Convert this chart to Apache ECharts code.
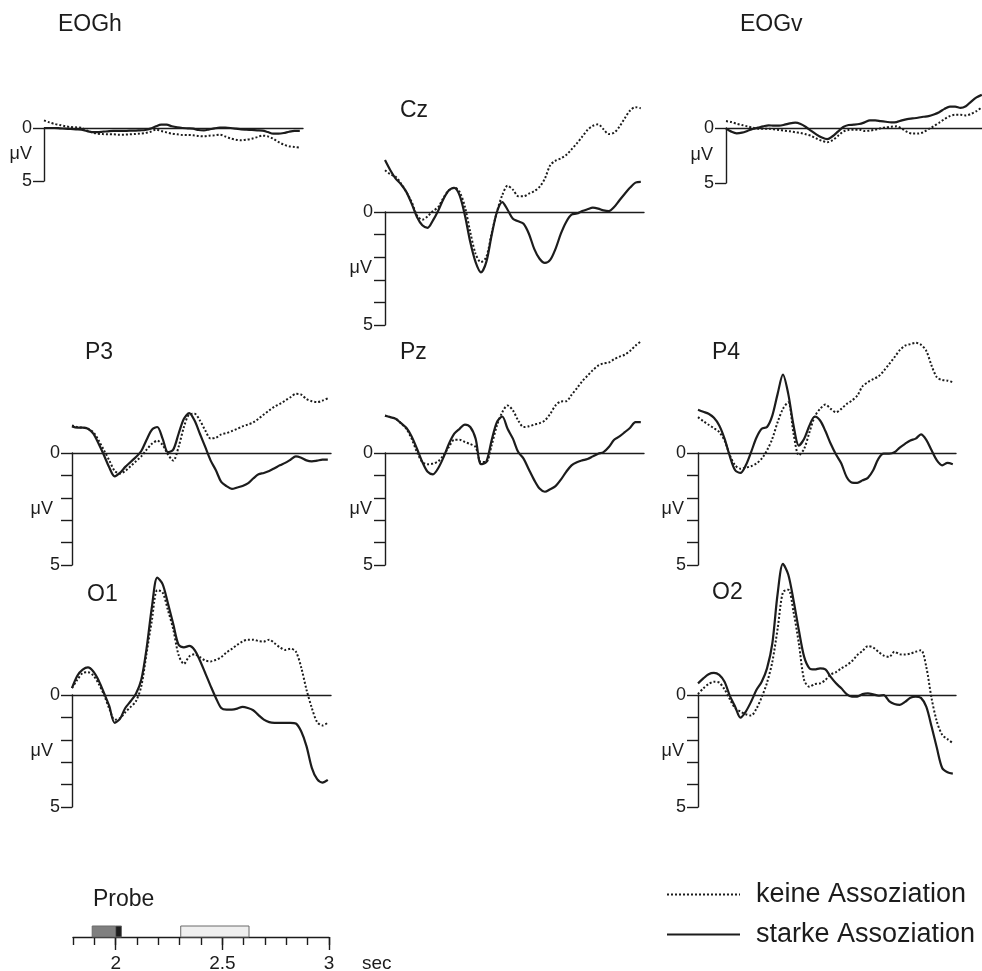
<!DOCTYPE html>
<html>
<head>
<meta charset="utf-8">
<script src="https://cdn.jsdelivr.net/npm/echarts@6/dist/echarts.min.js"></script>
<style>
  html, body { margin: 0; padding: 0; background: #fff; }
  #chart { width: 982px; height: 971px; }
</style>
</head>
<body>
<div id="chart"></div>
<script>
// Sample times (s) of the averaged ERP traces, 25 ms apart from 1.8 s to 3.0 s
const times = Array.from({ length: 49 }, (_, i) => +(1.8 + i * 0.025).toFixed(3));

const seriesNames = ['keine Assoziation', 'starke Assoziation'];

// Amplitudes in µV (negative plotted upward)
const eoghKeine = [-0.72,-0.53,-0.38,-0.28,-0.16,-0.09,-0.06,-0.03,0.22,0.41,
  0.53,0.57,0.60,0.60,0.63,0.63,0.60,0.57,0.53,0.47,
  0.35,0.16,0.28,0.41,0.53,0.60,0.66,0.66,0.69,0.75,
  0.79,0.72,0.69,0.63,0.79,0.98,1.10,1.16,1.10,1.01,
  0.86,0.72,0.79,1.01,1.32,1.57,1.73,1.79,1.86];
const eoghStarke = [0,0,0,0.03,0.06,0.09,0.13,0.16,0.28,0.38,
  0.38,0.35,0.31,0.28,0.28,0.28,0.25,0.25,0.22,0.19,
  0.06,-0.16,-0.31,-0.31,-0.16,-0.06,0,0.03,0.06,0.19,
  0.22,0.13,0.03,-0.03,-0.03,0,0.06,0.13,0.16,0.19,
  0.22,0.25,0.38,0.53,0.53,0.47,0.35,0.28,0.28];

const eogvKeine = [-0.63,-0.54,-0.39,-0.27,-0.15,-0.03,0.06,0.06,0.06,0.12,
  0.18,0.24,0.30,0.39,0.45,0.57,0.72,0.96,1.17,1.29,
  1.11,0.72,0.33,0.18,0.15,0.15,0.27,0.24,0.15,0.03,
  -0.06,-0.12,-0.15,0.06,0.36,0.51,0.51,0.39,0.09,-0.18,
  -0.48,-0.81,-1.08,-1.20,-1.20,-1.14,-1.29,-1.53,-1.89];
const eogvStarke = [0.06,0.33,0.48,0.42,0.27,0.09,-0.03,-0.15,-0.24,-0.21,
  -0.21,-0.30,-0.42,-0.48,-0.36,-0.09,0.27,0.60,0.87,1.02,
  0.75,0.33,-0.09,-0.27,-0.30,-0.36,-0.51,-0.69,-0.69,-0.63,
  -0.57,-0.51,-0.54,-0.69,-0.81,-0.87,-0.93,-1.02,-1.08,-1.23,
  -1.44,-1.74,-1.95,-1.95,-1.83,-1.98,-2.40,-2.78,-3.02];

const czKeine = [-1.85,-1.67,-1.56,-1.26,-0.89,-0.44,0.15,0.34,0.19,-0.04,
  -0.22,-0.64,-0.96,-1.08,-0.89,-0.22,0.89,1.85,2.22,2.00,
  0.96,0.00,-0.74,-1.16,-0.99,-0.70,-0.70,-0.81,-0.92,-1.11,
  -1.48,-2.07,-2.27,-2.37,-2.52,-2.77,-3.04,-3.33,-3.63,-3.81,
  -3.88,-3.66,-3.45,-3.51,-3.78,-4.15,-4.49,-4.64,-4.59];
const czStarke = [-2.30,-1.85,-1.48,-1.23,-0.89,-0.37,0.22,0.59,0.70,0.37,
  -0.07,-0.59,-0.96,-1.07,-0.74,0.15,1.33,2.22,2.67,2.22,
  1.04,0.00,-0.44,-0.10,0.30,0.41,0.52,0.96,1.63,2.07,
  2.25,2.12,1.63,0.96,0.44,0.12,0.07,-0.04,-0.12,-0.19,
  -0.15,-0.07,-0.04,-0.22,-0.52,-0.81,-1.08,-1.30,-1.33];

const p3Keine = [-1.23,-1.16,-1.13,-1.08,-0.93,-0.56,-0.12,0.33,0.80,0.92,
  0.80,0.59,0.37,0.15,-0.15,-0.41,-0.55,-0.36,0.06,0.34,
  -0.27,-1.16,-1.72,-1.75,-1.45,-1.01,-0.65,-0.68,-0.83,-0.89,
  -0.98,-1.08,-1.19,-1.27,-1.36,-1.53,-1.72,-1.90,-2.07,-2.19,
  -2.34,-2.49,-2.64,-2.61,-2.41,-2.31,-2.27,-2.34,-2.44];
const p3Starke = [-1.19,-1.13,-1.13,-1.08,-0.86,-0.41,0.10,0.65,1.04,0.89,
  0.62,0.40,0.18,-0.09,-0.59,-1.04,-1.16,-0.64,-0.04,-0.15,
  -0.86,-1.53,-1.78,-1.45,-0.86,-0.27,0.33,0.77,1.29,1.48,
  1.60,1.54,1.47,1.36,1.14,0.95,0.89,0.80,0.68,0.55,
  0.44,0.30,0.15,0.21,0.33,0.37,0.34,0.30,0.30];

const pzKeine = [-1.67,-1.60,-1.53,-1.33,-1.08,-0.64,-0.04,0.40,0.50,0.47,
  0.37,0.10,-0.27,-0.59,-0.59,-0.49,-0.40,-0.27,0.40,0.40,
  -0.34,-1.23,-1.82,-2.12,-1.90,-1.45,-1.16,-1.19,-1.27,-1.33,
  -1.45,-1.75,-2.12,-2.30,-2.31,-2.59,-2.89,-3.20,-3.45,-3.70,
  -3.90,-4.00,-4.04,-4.19,-4.30,-4.39,-4.56,-4.79,-4.98];
const pzStarke = [-1.67,-1.60,-1.53,-1.33,-1.13,-0.74,-0.19,0.40,0.84,0.95,
  0.67,0.18,-0.41,-0.86,-1.08,-1.27,-1.16,-0.64,0.50,0.40,
  -0.56,-1.38,-1.63,-1.08,-0.64,-0.04,0.25,0.74,1.21,1.59,
  1.73,1.62,1.48,1.19,0.84,0.55,0.41,0.33,0.27,0.15,
  0.03,-0.04,-0.27,-0.59,-0.74,-0.93,-1.13,-1.38,-1.38];

const p4Keine = [-1.60,-1.42,-1.26,-1.11,-0.93,-0.56,0.10,0.55,0.70,0.65,
  0.59,0.47,0.25,-0.12,-0.64,-1.38,-1.97,-2.27,-0.86,0.10,
  -0.19,-0.93,-1.63,-1.97,-2.16,-1.97,-1.82,-1.97,-2.19,-2.34,
  -2.56,-2.98,-3.16,-3.30,-3.42,-3.67,-3.97,-4.27,-4.59,-4.79,
  -4.86,-4.92,-4.83,-4.56,-3.90,-3.38,-3.26,-3.23,-3.16];
const p4Starke = [-1.93,-1.84,-1.75,-1.57,-1.23,-0.64,0.15,0.77,0.89,0.55,
  -0.04,-0.68,-1.08,-1.16,-1.67,-2.64,-3.50,-2.64,-1.23,-0.33,
  -0.64,-1.23,-1.63,-1.45,-0.98,-0.41,0.07,0.47,1.07,1.32,
  1.33,1.22,1.11,0.77,0.25,0.03,0.03,-0.03,-0.24,-0.41,
  -0.56,-0.64,-0.83,-0.59,-0.12,0.33,0.55,0.44,0.50];

const o1Keine = [-0.31,-0.68,-0.98,-1.02,-0.87,-0.50,-0.01,0.61,1.10,1.04,
  0.77,0.53,0.28,-0.39,-1.87,-3.35,-4.68,-4.58,-3.79,-2.93,
  -1.79,-1.39,-1.72,-1.82,-1.69,-1.54,-1.50,-1.57,-1.69,-1.90,
  -2.06,-2.24,-2.39,-2.47,-2.47,-2.41,-2.39,-2.47,-2.31,-2.13,
  -2.01,-2.07,-1.94,-1.24,-0.24,0.58,1.21,1.36,1.24];
const o1Starke = [-0.31,-0.86,-1.13,-1.23,-1.05,-0.65,-0.09,0.50,1.24,1.07,
  0.58,0.28,-0.06,-0.68,-2.09,-3.94,-5.24,-4.95,-4.09,-3.17,
  -2.24,-2.13,-2.19,-2.01,-1.54,-0.98,-0.41,0.13,0.58,0.65,
  0.65,0.61,0.53,0.58,0.68,0.90,1.10,1.21,1.24,1.24,
  1.24,1.24,1.27,1.62,2.28,3.25,3.76,3.91,3.79];

const o2Keine = [-0.04,-0.30,-0.49,-0.59,-0.55,-0.25,0.19,0.59,0.74,0.86,
  0.92,0.61,0.10,-0.55,-1.48,-2.96,-4.59,-4.70,-3.70,-2.30,
  -0.67,-0.37,-0.49,-0.52,-0.67,-0.92,-1.02,-1.19,-1.33,-1.51,
  -1.78,-1.97,-2.18,-2.12,-1.93,-1.76,-1.70,-1.93,-1.82,-1.81,
  -1.85,-1.93,-2.00,-1.26,0.15,1.19,1.78,1.97,2.15];
const o2Starke = [-0.52,-0.74,-0.93,-0.99,-0.90,-0.59,0.04,0.52,1.01,0.74,
  0.30,-0.22,-0.59,-1.19,-2.30,-4.52,-5.85,-5.38,-4.22,-2.89,
  -1.70,-1.19,-1.14,-1.19,-1.14,-0.81,-0.52,-0.30,-0.04,0.07,
  0.07,-0.04,-0.07,-0.03,0.03,0.01,0.27,0.40,0.44,0.31,
  0.12,0.07,0.13,0.52,1.41,2.37,3.26,3.45,3.51];

// Axis tick labels
const ampLabels = [0, 5];
const probeMinorTicks = [1.8, 1.9, 2.0, 2.1, 2.2, 2.3, 2.4, 2.5, 2.6, 2.7, 2.8, 2.9, 3.0];
const probeMajorTicks = [2, 2.5, 3];
// Probe stimulus intervals (s): lead-in, onset mark, probe window
const probeIntervals = [[1.89, 2.0], [2.0, 2.027], [2.305, 2.625]];

const channels = [
  { name: 'EOGh', keine: eoghKeine, starke: eoghStarke },
  { name: 'Cz',   keine: czKeine,   starke: czStarke },
  { name: 'EOGv', keine: eogvKeine, starke: eogvStarke },
  { name: 'P3',   keine: p3Keine,   starke: p3Starke },
  { name: 'Pz',   keine: pzKeine,   starke: pzStarke },
  { name: 'P4',   keine: p4Keine,   starke: p4Starke },
  { name: 'O1',   keine: o1Keine,   starke: o1Starke },
  { name: 'O2',   keine: o2Keine,   starke: o2Starke }
];

// Panel placement: y-axis position, zero line, 5 µV height, title position
const panelLayout = {
  EOGh: { left: 44,  top: 128, width: 259, height: 53,  step: 5, nameGap: 12, tx: 58,  ty: 13 },
  Cz:   { left: 385, top: 212, width: 259, height: 113, step: 1, nameGap: 13, tx: 400, ty: 99 },
  EOGv: { left: 726, top: 128, width: 259, height: 55,  step: 5, nameGap: 13, tx: 740, ty: 13 },
  P3:   { left: 72,  top: 453, width: 259, height: 112, step: 1, nameGap: 19, tx: 85,  ty: 341 },
  Pz:   { left: 385, top: 453, width: 259, height: 112, step: 1, nameGap: 13, tx: 400, ty: 341 },
  P4:   { left: 698, top: 453, width: 258, height: 112, step: 1, nameGap: 14, tx: 712, ty: 341 },
  O1:   { left: 72,  top: 695, width: 259, height: 112, step: 1, nameGap: 19, tx: 87,  ty: 583 },
  O2:   { left: 698, top: 695, width: 258, height: 112, step: 1, nameGap: 14, tx: 712, ty: 581 }
};

const ink = '#1c1c1c';
const font = 'Liberation Sans, Arial, Helvetica, sans-serif';
const axisLineStyle = { color: ink, width: 1.4 };

const grids = [], xAxes = [], yAxes = [], series = [], titles = [];

channels.forEach((ch, k) => {
  const L = panelLayout[ch.name];
  grids.push({ left: L.left, top: L.top, width: L.width, height: L.height, outerBoundsMode: 'none' });
  xAxes.push({
    gridIndex: k, type: 'value', min: 1.8, max: 3.015, position: 'top',
    axisLine: { show: true, onZero: false, lineStyle: axisLineStyle },
    axisTick: { show: false }, axisLabel: { show: false }, splitLine: { show: false }
  });
  yAxes.push({
    gridIndex: k, type: 'value', min: 0, max: 5, interval: L.step, inverse: true,
    axisLine: { show: true, onZero: false, lineStyle: axisLineStyle },
    axisTick: { show: true, length: 11, lineStyle: axisLineStyle },
    axisLabel: { customValues: ampLabels, margin: 12, fontSize: 18, color: ink, fontFamily: font },
    splitLine: { show: false },
    name: 'μV', nameLocation: 'middle', nameRotate: 0, nameGap: L.nameGap, nameMoveOverlap: false,
    nameTextStyle: { fontSize: 18, color: ink, fontFamily: font, align: 'right', verticalAlign: 'middle' }
  });
  titles.push({
    text: ch.name, left: L.tx, top: L.ty, padding: 0,
    textStyle: { fontSize: 23, fontWeight: 'normal', color: ink, fontFamily: font }
  });
  [ch.keine, ch.starke].forEach((vals, s) => {
    series.push({
      name: seriesNames[s], type: 'line', xAxisIndex: k, yAxisIndex: k,
      data: times.map((t, i) => [t, vals[i]]),
      color: ink,
      symbol: 'none', showSymbol: false, smooth: 0.3, clip: false, z: s === 1 ? 3 : 2,
      lineStyle: s === 0
        ? { color: ink, width: 2, type: [2, 2] }
        : { color: ink, width: 2.2, type: 'solid' },
      emphasis: { disabled: true }
    });
  });
});

// Time axis with the probe presentation bars
const pg = grids.length;
grids.push({ left: 73, top: 926, width: 256, height: 11, outerBoundsMode: 'none' });
xAxes.push({
  gridIndex: pg, type: 'value', min: 1.8, max: 3.0, position: 'bottom',
  axisLine: { show: true, onZero: false, lineStyle: axisLineStyle },
  axisTick: { show: true, customValues: probeMinorTicks, length: 8, lineStyle: axisLineStyle },
  axisLabel: { show: false }, splitLine: { show: false }
});
xAxes.push({
  gridIndex: pg, type: 'value', min: 1.8, max: 3.0, position: 'bottom', offset: 0,
  axisLine: { show: false, onZero: false },
  axisTick: { show: true, customValues: probeMajorTicks, length: 13, lineStyle: axisLineStyle },
  axisLabel: { customValues: probeMajorTicks, margin: 17, fontSize: 19, color: ink, fontFamily: font },
  splitLine: { show: false },
  name: 'sec', nameLocation: 'end', nameGap: 33, nameMoveOverlap: false,
  nameTextStyle: { fontSize: 19, color: ink, fontFamily: font, verticalAlign: 'top', padding: [17, 0, 0, 0] }
});
yAxes.push({ gridIndex: pg, type: 'value', min: 0, max: 1, show: false });

const probeFills = ['#7f7f7f', '#1c1c1c', '#efefef'];
series.push({
  type: 'custom', xAxisIndex: xAxes.length - 2, yAxisIndex: yAxes.length - 1,
  data: probeIntervals,
  renderItem: (params, api) => {
    const a = api.coord([api.value(0), 1]);
    const b = api.coord([api.value(1), 0]);
    return {
      type: 'rect',
      shape: { x: a[0], y: a[1], width: b[0] - a[0], height: b[1] - a[1] },
      style: { fill: probeFills[params.dataIndex], stroke: '#6a6a6a', lineWidth: 1 }
    };
  },
  silent: true
});

titles.push({
  text: 'Probe', left: 93, top: 888, padding: 0,
  textStyle: { fontSize: 23, fontWeight: 'normal', color: ink, fontFamily: font }
});

const chart = echarts.init(document.getElementById('chart'), null, { renderer: 'canvas' });
chart.setOption({
  animation: false,
  backgroundColor: '#ffffff',
  title: titles,
  grid: grids,
  xAxis: xAxes,
  yAxis: yAxes,
  series: series,
  legend: {
    data: seriesNames, orient: 'vertical', left: 666, top: 881, padding: 0,
    itemWidth: 73, itemHeight: 14, itemGap: 13,
    itemStyle: { opacity: 0 },
    textStyle: { fontSize: 27, color: ink, fontFamily: font, padding: [0, 0, 0, 11] },
    selectedMode: false
  },
  tooltip: { show: false }
});
</script>
</body>
</html>
